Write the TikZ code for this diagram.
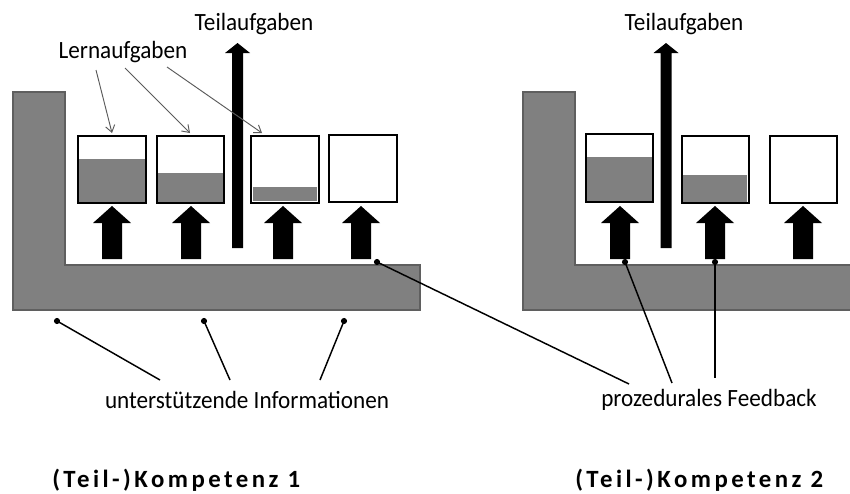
\documentclass[tikz,border=0pt]{standalone}
\usepackage{fontspec}
\setmainfont{Carlito}
\newfontfamily\labelfont[FakeStretch=0.935]{Carlito}
\newfontfamily\spacedbold[LetterSpace=14]{Carlito}
\usetikzlibrary{arrows.meta}
\definecolor{lgray}{RGB}{128,128,128}
\definecolor{lgrayline}{RGB}{95,95,95}
\definecolor{thingray}{RGB}{90,90,90}
\begin{document}
\begin{tikzpicture}[x=0.75pt,y=-0.75pt,
  lshape/.style={fill=lgray,draw=lgrayline,line width=0.8pt},
  taskbox/.style={draw=black,line width=1.6pt},
  level/.style={fill=lgray},
  label/.style={font=\fontsize{18.6}{22}\labelfont,inner sep=0pt},
  komp/.style={font=\fontsize{18.6}{22}\spacedbold\bfseries,inner sep=0pt,anchor=west},
  pointer/.style={draw=black,line width=1.1pt},
  dot/.style={fill=black},
  thinarrow/.style={draw=thingray,line width=0.7pt,-{Straight Barb[length=5pt,width=7pt]}},
  blockarrow/.pic={\fill[black] (-10,0) -- (-10,-36) -- (-19,-36) -- (0,-53) -- (19,-36) -- (10,-36) -- (10,0) -- cycle;},
  tallarrow/.pic={\fill[black] (-5.5,0) -- (-5.5,-195) -- (-12.5,-195) -- (0,-205) -- (12.5,-195) -- (5.5,-195) -- (5.5,0) -- cycle;}
]
\useasboundingbox (0,0) rectangle (850,493);
\clip (0,0) rectangle (850,493);
\fill[white] (0,0) rectangle (850,493);

% ---------- left: (Teil-)Kompetenz 1 ----------
\path[lshape] (13,92) -- (65,92) -- (65,265) -- (420,265) -- (420,310) -- (13,310) -- cycle;

% boxes
\fill[level] (79,159) rectangle (145,202);
\draw[taskbox] (78,136) rectangle (146,203);
\fill[level] (158,173) rectangle (223,202);
\draw[taskbox] (157,136) rectangle (224,203);
\fill[level] (253,187) rectangle (317,201);
\draw[taskbox] (251,136) rectangle (319,203);
\draw[taskbox] (329,135) rectangle (397,202);

% block arrows
\pic at (112,259) {blockarrow};
\pic at (191,259) {blockarrow};
\pic at (283,259) {blockarrow};
\pic at (361,259) {blockarrow};
\pic at (237.5,248) {tallarrow};

% labels
\node[label] (teilL) at (254,24) {Teilaufgaben};
\node[label] (lern) at (123,52) {Lernaufgaben};
\node[label] (unter) at (247,400) {unterstützende Informationen};
\node[komp] (k1) at (52,480) {(Teil-)Kompetenz 1};

% Lernaufgaben pointers
\coordinate (la1) at (96,70);
\coordinate (la2) at (125,68);
\coordinate (la3) at (167,67);
\coordinate (lb1) at (112,133);
\coordinate (lb2) at (190,133);
\coordinate (lb3) at (262,133);
\draw[thinarrow] (la1) -- (lb1);
\draw[thinarrow] (la2) -- (lb2);
\draw[thinarrow] (la3) -- (lb3);

% unterstuetzende Informationen pointers
\coordinate (u1) at (57,321);
\coordinate (u2) at (204,321);
\coordinate (u3) at (344,321);
\coordinate (ue1) at (160,380);
\coordinate (ue2) at (230,380);
\coordinate (ue3) at (320,380);
\draw[pointer] (u1) -- (ue1);
\draw[pointer] (u2) -- (ue2);
\draw[pointer] (u3) -- (ue3);
\fill[dot] (u1) circle (2.3pt);
\fill[dot] (u2) circle (2.3pt);
\fill[dot] (u3) circle (2.3pt);

% ---------- right: (Teil-)Kompetenz 2 ----------
\path[lshape] (523,92) -- (575,92) -- (575,265) -- (860,265) -- (860,310) -- (523,310) -- cycle;

\fill[level] (587,157) rectangle (652,201);
\draw[taskbox] (586,134) rectangle (653,202);
\fill[level] (683,175) rectangle (747,202);
\draw[taskbox] (682,136) rectangle (749,203);
\draw[taskbox] (770,136) rectangle (837,203);

\pic at (620,259) {blockarrow};
\pic at (715,259) {blockarrow};
\pic at (803,259) {blockarrow};
\pic at (666,248) {tallarrow};

\node[label] (teilR) at (684,24) {Teilaufgaben};
\node[label] (feed) at (709,400) {prozedurales Feedback};
\node[komp] (k2) at (575,480) {(Teil-)Kompetenz 2};

% prozedurales Feedback pointers
\coordinate (f1) at (377,262);
\coordinate (f2) at (625,262);
\coordinate (f3) at (715,262);
\coordinate (fe1) at (629,384);
\coordinate (fe2) at (672,383);
\coordinate (fe3) at (715,378);
\draw[pointer] (f1) -- (fe1);
\draw[pointer] (f2) -- (fe2);
\draw[pointer] (f3) -- (fe3);
\fill[dot] (f1) circle (2.3pt);
\fill[dot] (f2) circle (2.3pt);
\fill[dot] (f3) circle (2.3pt);
\end{tikzpicture}
\end{document}
